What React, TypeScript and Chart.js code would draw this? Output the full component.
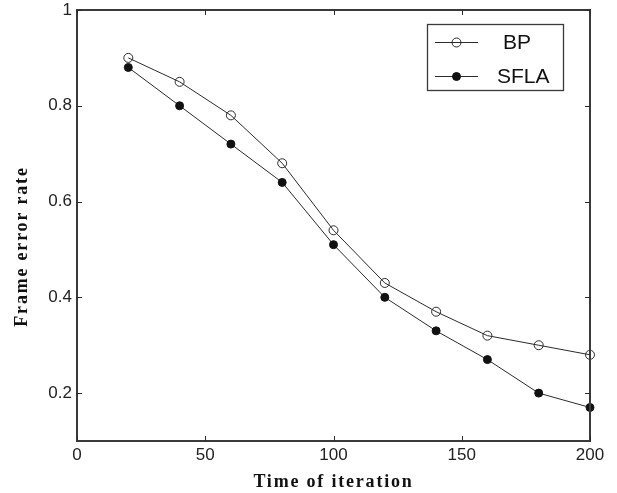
import React, { useEffect, useRef } from "react";
import { Chart, registerables } from "chart.js";

Chart.register(...registerables);

// Iteration counts on the x axis
const iterations = [20, 40, 60, 80, 100, 120, 140, 160, 180, 200];
// Frame error rate per iteration
const bpRate = [0.90, 0.85, 0.78, 0.68, 0.54, 0.43, 0.37, 0.32, 0.30, 0.28];
const sflaRate = [0.88, 0.80, 0.72, 0.64, 0.51, 0.40, 0.33, 0.27, 0.20, 0.17];

const xTicks = [0, 50, 100, 150, 200];
const yTicks = [0.2, 0.4, 0.6, 0.8, 1];

const seriesNames = ["BP", "SFLA"];
const xTitle = "Time of iteration";
const yTitle = "Frame error rate";

const INK = "#2b2b2b";
const FRAME = "#3a3a3a";
const SANS = "'Liberation Sans', Arial, sans-serif";
const SERIF = "'Liberation Serif', 'Times New Roman', serif";

// Box around the plot area with inward ticks on all four sides
const framePlugin = {
  id: "boxFrame",
  afterDatasetsDraw(chart: any) {
    const ctx: CanvasRenderingContext2D = chart.ctx;
    const a = chart.chartArea;
    const xs = chart.scales.x;
    const ys = chart.scales.y;
    const L = Math.round(a.left);
    const R = Math.round(a.right);
    const T = Math.round(a.top);
    const B = Math.round(a.bottom);
    const tl = 5;
    ctx.save();
    ctx.fillStyle = FRAME;
    ctx.fillRect(L - 1, T - 1, R - L + 2, 2);
    ctx.fillRect(L - 1, B - 1, R - L + 2, 2);
    ctx.fillRect(L - 1, T - 1, 2, B - T + 2);
    ctx.fillRect(R - 1, T - 1, 2, B - T + 2);
    ctx.fillStyle = INK;
    for (const v of xTicks) {
      const px = Math.round(xs.getPixelForValue(v));
      ctx.fillRect(px, B - tl, 1, tl);
      ctx.fillRect(px, T, 1, tl);
    }
    for (const v of yTicks) {
      const py = Math.round(ys.getPixelForValue(v));
      ctx.fillRect(L, py, tl, 1);
      ctx.fillRect(R - tl, py, tl, 1);
    }
    ctx.restore();
  },
};

// Axis titles and the boxed legend
const annotatePlugin = {
  id: "titlesAndLegend",
  afterDraw(chart: any) {
    const ctx: CanvasRenderingContext2D = chart.ctx;
    const a = chart.chartArea;
    ctx.save();
    ctx.fillStyle = "#111111";
    ctx.font = `bold 18px ${SERIF}`;
    (ctx as any).letterSpacing = "1.8px";
    ctx.textAlign = "center";
    ctx.textBaseline = "alphabetic";
    ctx.fillText(xTitle, (a.left + a.right) / 2, a.bottom + 46);
    ctx.save();
    ctx.translate(a.left - 50, (a.top + a.bottom) / 2 + 21);
    ctx.rotate(-Math.PI / 2);
    ctx.fillText(yTitle, 0, 0);
    ctx.restore();
    (ctx as any).letterSpacing = "0px";

    const bx = Math.round(a.right - 163);
    const by = Math.round(a.top + 14);
    const bw = 136;
    const bh = 66;
    ctx.fillStyle = "#ffffff";
    ctx.fillRect(bx, by, bw, bh);
    ctx.strokeStyle = FRAME;
    ctx.lineWidth = 1.3;
    ctx.strokeRect(bx + 0.5, by + 0.5, bw, bh);
    ctx.lineWidth = 1;
    const rows = [by + 18, by + 52];
    chart.data.datasets.forEach((ds: any, i: number) => {
      const y = rows[i] + 0.5;
      ctx.beginPath();
      ctx.strokeStyle = INK;
      ctx.moveTo(bx + 8, y);
      ctx.lineTo(bx + 51, y);
      ctx.stroke();
      ctx.beginPath();
      ctx.arc(bx + 29.5, y, ds.pointRadius, 0, Math.PI * 2);
      ctx.fillStyle = ds.pointBackgroundColor;
      ctx.fill();
      ctx.strokeStyle = ds.pointBorderColor;
      ctx.stroke();
      ctx.fillStyle = "#111111";
      ctx.font = `21px ${SANS}`;
      ctx.textAlign = "left";
      ctx.textBaseline = "middle";
      ctx.fillText(seriesNames[i], i === 0 ? bx + 76 : bx + 70, y + 1);
    });
    ctx.restore();
  },
};

export default function App() {
  const ref = useRef<HTMLCanvasElement | null>(null);

  useEffect(() => {
    if (!ref.current) return;
    const chart = new Chart(ref.current, {
      type: "line",
      data: {
        datasets: [
          {
            label: seriesNames[0],
            data: iterations.map((x, i) => ({ x, y: bpRate[i] })),
            borderColor: INK,
            borderWidth: 1,
            pointRadius: 4.5,
            pointBackgroundColor: "rgba(0,0,0,0)",
            pointBorderColor: INK,
            pointBorderWidth: 1,
            tension: 0,
            clip: false,
          },
          {
            label: seriesNames[1],
            data: iterations.map((x, i) => ({ x, y: sflaRate[i] })),
            borderColor: INK,
            borderWidth: 1,
            pointRadius: 4,
            pointBackgroundColor: "#111111",
            pointBorderColor: "#111111",
            pointBorderWidth: 1,
            tension: 0,
            clip: false,
          },
        ],
      },
      options: {
        animation: false,
        responsive: false,
        maintainAspectRatio: false,
        layout: { padding: { top: 10, right: 27, left: 0, bottom: 0 } },
        plugins: { legend: { display: false }, tooltip: { enabled: false } },
        scales: {
          x: {
            type: "linear",
            min: 0,
            max: 200,
            afterBuildTicks: (s: any) => {
              s.ticks = xTicks.map((v) => ({ value: v }));
            },
            afterFit: (s: any) => {
              s.height = 52;
              s.paddingLeft = 0;
              s.paddingRight = 0;
            },
            grid: { display: false, drawTicks: false },
            border: { display: false },
            ticks: {
              color: "#222222",
              font: { family: SANS, size: 17 },
              padding: 4,
              maxRotation: 0,
            },
          },
          y: {
            type: "linear",
            min: 0.1,
            max: 1,
            afterBuildTicks: (s: any) => {
              s.ticks = yTicks.map((v) => ({ value: v }));
            },
            afterFit: (s: any) => {
              s.width = 77;
              s.paddingTop = 0;
              s.paddingBottom = 0;
            },
            grid: { display: false, drawTicks: false },
            border: { display: false },
            ticks: {
              color: "#222222",
              font: { family: SANS, size: 17 },
              padding: 5,
              callback: (v: any) => String(Number(v)),
            },
          },
        },
      },
      plugins: [framePlugin, annotatePlugin],
    });
    return () => chart.destroy();
  }, []);

  return (
    <div style={{ position: "absolute", left: 0, top: 0, width: 617, height: 493, background: "#fff" }}>
      <canvas ref={ref} width={617} height={493} style={{ width: 617, height: 493 }} />
    </div>
  );
}
